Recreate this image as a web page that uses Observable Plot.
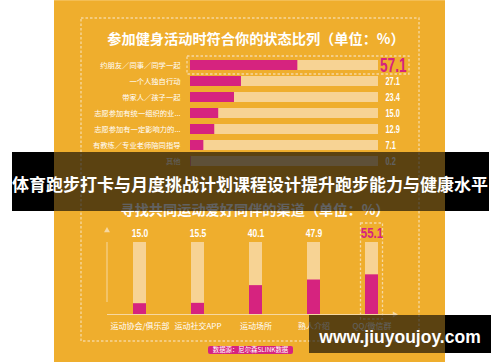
<!DOCTYPE html>
<html>
<head>
<meta charset="utf-8">
<script src="https://cdn.jsdelivr.net/npm/d3@7"></script>
<script src="https://cdn.jsdelivr.net/npm/@observablehq/plot@0.6"></script>
<style>
  html, body { margin: 0; padding: 0; background: #fff; }
  body { width: 500px; height: 362px; position: relative; overflow: hidden; font-family: "Noto Sans CJK SC", "Noto Sans", sans-serif; }
  .abs { position: absolute; }
  .panel { left: 54px; top: 0; width: 391px; height: 362px; background: #EFAE2D; border-top: 1px solid #F3BE55; box-sizing: border-box; }
  .title { left: 6px; width: 500px; text-align: center; color: #fff; font-weight: 700; font-size: 14.2px; line-height: 16px; white-space: nowrap; }
  .chart { left: 0; top: 0; }
  .chart svg { display: block; }
  .band { top: 152px; height: 59px; }
  .banner { left: 0; width: 500px; top: 173px; text-align: center; color: #fff; font-weight: 700; font-size: 17px; line-height: 22px; white-space: nowrap; letter-spacing: 0; }
  .source { left: 208px; top: 346px; width: 85px; height: 8px; background: #D6237F; border-radius: 2px; color: #fff; font-size: 6.4px; line-height: 8px; text-align: center; white-space: nowrap; }
  .wm { top: 315px; height: 38px; }
  .wmtext { left: 309px; width: 182px; top: 326px; text-align: center; color: #fff; font-family: "Liberation Sans", Arial, sans-serif; font-weight: 700; font-size: 17.5px; line-height: 22px; white-space: nowrap; }
</style>
</head>
<body>
<div class="abs panel"></div>
<svg class="abs" style="left:0;top:0" width="500" height="362">
  <rect x="81" y="18" width="338" height="323" fill="none" stroke="#F6D69C" stroke-width="1.4" stroke-dasharray="2.5 2"></rect>
</svg>
<div class="abs title" style="top:30px">参加健身活动时符合你的状态比列（单位：%）</div>
<div class="abs title" style="top:201px; left:5px">寻找共同运动爱好同伴的渠道（单位：%）</div>
<div id="chart1" class="abs chart"></div>
<div id="chart2" class="abs chart"></div>
<div class="abs band" style="left:12px;width:42px;background:#000"></div>
<div class="abs band" style="left:445px;width:44px;background:#000"></div>
<div class="abs band" style="left:54px;width:391px;background:rgba(0,0,0,0.62)"></div>
<div class="abs banner">体育跑步打卡与月度挑战计划课程设计提升跑步能力与健康水平</div>
<div class="abs source">数据源：尼尔森SLINK数据</div>
<div class="abs wm" style="left:309px;width:136px;background:rgba(0,0,0,0.62)"></div>
<div class="abs wm" style="left:445px;width:46px;background:#000"></div>
<div class="abs wmtext">www.jiuyoujoy.com</div>

<script>
// ---- data ----
const statusCategories = [
  "约朋友／同事／同学一起",
  "一个人独自行动",
  "带家人／孩子一起",
  "志愿参加有统一组织的业...",
  "志愿参加有一定影响力的...",
  "有教练／专业老师陪同指导",
  "其他"
];
const statusValues = [57.1, 27.1, 23.4, 15.0, 12.9, 7.1, 0.2];
const statusLabels = ["57.1", "27.1", "23.4", "15.0", "12.9", "7.1", "0.2"];

const channelCategories = ["运动协会/俱乐部", "运动社交APP", "运动场所", "熟人介绍", "QQ/微信群"];
const channelValues = [15.0, 15.5, 40.1, 47.9, 55.1];
const channelLabels = ["15.0", "15.5", "40.1", "47.9", "55.1"];

const fullScale = 100;

// ---- style ----
const MAGENTA = "#D6237F";
const TRACK = "#F7D394";
const LIGHT = "#F6D8A2";
const NUMFONT = "Liberation Sans, Arial, sans-serif";
const CJK = "Noto Sans CJK SC, sans-serif";

const statusData = statusCategories.map((c, i) => ({cat: c, value: statusValues[i], label: statusLabels[i], hi: i === 0}));
const channelData = channelCategories.map((c, i) => ({cat: c, value: channelValues[i], label: channelLabels[i], hi: i === channelCategories.length - 1}));

function condense(svg, factor) {
  svg.querySelectorAll("g").forEach(g => {
    const ff = g.getAttribute("font-family") || "";
    if (ff.indexOf("Liberation") !== 0) return;
    g.querySelectorAll("text").forEach(t => {
      const w = t.getComputedTextLength();
      if (w > 0) {
        t.setAttribute("textLength", (w * factor).toFixed(2));
        t.setAttribute("lengthAdjust", "spacingAndGlyphs");
      }
    });
  });
}

const chart1 = Plot.plot({
  width: 500, height: 362,
  marginLeft: 190, marginRight: 122, marginTop: 59, marginBottom: 195.4,
  style: {background: "transparent", overflow: "visible"},
  x: {domain: [0, fullScale], axis: null},
  y: {domain: statusCategories, axis: null, paddingInner: 0.385, paddingOuter: 0},
  marks: [
    Plot.barX(statusData, {y: "cat", x1: 0, x2: fullScale, fill: TRACK}),
    Plot.barX(statusData, {y: "cat", x1: 0, x2: "value", fill: MAGENTA}),
    Plot.barX(statusData.filter(d => d.hi), {y: "cat", x1: 0, x2: fullScale, fill: "none", stroke: LIGHT, strokeWidth: 1.3, strokeDasharray: "2.5 2", insetLeft: -3, insetRight: -31, insetTop: -4, insetBottom: -4}),
    Plot.text(statusData, {y: "cat", x: 0, text: "cat", textAnchor: "end", dx: -10, fill: "#fff", fontSize: 7.3, fontFamily: CJK}),
    Plot.text(statusData.filter(d => !d.hi), {y: "cat", x: fullScale, text: "label", textAnchor: "start", dx: 7, fill: "#fff", fontSize: 10.5, fontWeight: "bold", fontFamily: NUMFONT}),
    Plot.text(statusData.filter(d => d.hi), {y: "cat", x: fullScale, text: "label", textAnchor: "start", dx: 1.5, dy: 0.5, fill: MAGENTA, fontSize: 19.5, fontWeight: "bold", fontFamily: NUMFONT})
  ]
});
document.getElementById("chart1").appendChild(chart1);
condense(chart1, 0.7);

const chart2 = Plot.plot({
  width: 500, height: 362,
  marginLeft: 107, marginRight: 106, marginTop: 242, marginBottom: 48,
  style: {background: "transparent", overflow: "visible"},
  x: {domain: channelCategories, range: [88.7, 423.4], padding: 0.77, axis: null},
  y: {domain: [0, fullScale], axis: null},
  marks: [
    Plot.barY(channelData, {x: "cat", y1: 0, y2: fullScale, fill: TRACK}),
    Plot.barY(channelData, {x: "cat", y1: 0, y2: "value", fill: MAGENTA}),
    Plot.barY(channelData.filter(d => d.hi), {x: "cat", y1: 0, y2: fullScale, fill: "none", stroke: LIGHT, strokeWidth: 1.3, strokeDasharray: "2.5 2", insetLeft: -4.5, insetRight: -4.5, insetTop: -19, insetBottom: -5}),
    Plot.ruleY([0], {y: d => d, stroke: LIGHT, strokeWidth: 1}),
    Plot.dot([0], {y: d => d, frameAnchor: "right", symbol: "triangle", rotate: 90, r: 2.2, fill: LIGHT, stroke: "none"}),
    Plot.ruleX([channelCategories[0]], {x: d => d, y1: 0, y2: fullScale, dx: -33, insetTop: -12, stroke: LIGHT, strokeWidth: 1}),
    Plot.dot([channelCategories[0]], {x: d => d, y: fullScale, dx: -33, dy: -12, symbol: "triangle", r: 2.2, fill: LIGHT, stroke: "none"}),
    Plot.text(channelData.filter(d => !d.hi), {x: "cat", y: fullScale, text: "label", dy: -9, fill: "#fff", fontSize: 11.5, fontWeight: "bold", fontFamily: NUMFONT}),
    Plot.text(channelData.filter(d => d.hi), {x: "cat", y: fullScale, text: "label", dy: -9.5, fill: MAGENTA, fontSize: 15.5, fontWeight: "bold", fontFamily: NUMFONT}),
    Plot.text(channelData, {x: "cat", y: 0, text: "cat", dy: 11.5, fill: "#fff", fontSize: 8, fontFamily: CJK})
  ]
});
document.getElementById("chart2").appendChild(chart2);
condense(chart2, 0.74);
</script>
</body>
</html>
